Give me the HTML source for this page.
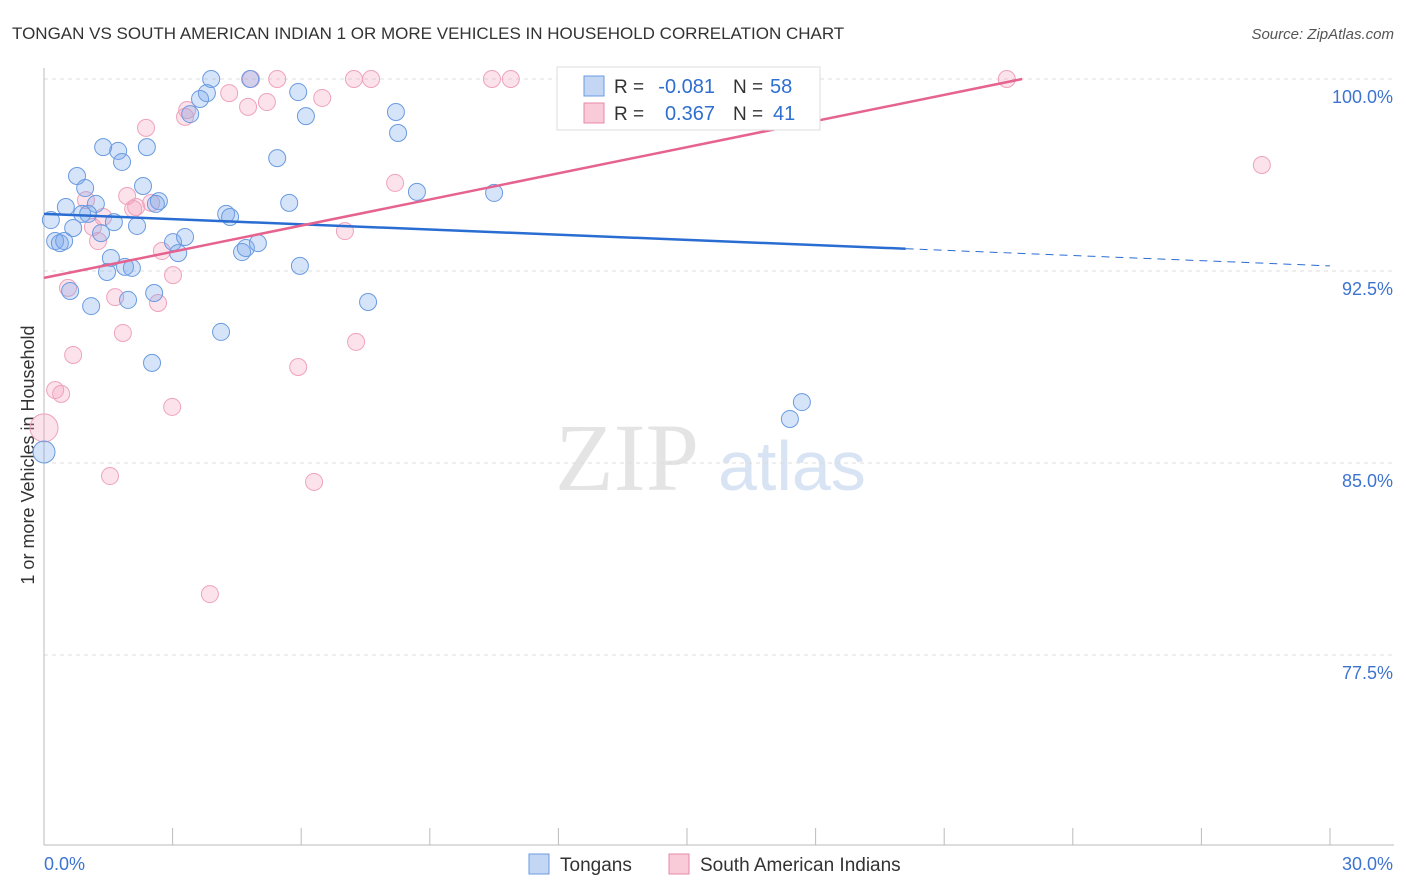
<!DOCTYPE html>
<html><head><meta charset="utf-8"><style>
body{margin:0;background:#fff;font-family:"Liberation Sans",sans-serif;}
#wrap{position:relative;width:1406px;height:892px;overflow:hidden;}
</style></head><body>
<div id="wrap">
<svg id="svg" width="1406" height="892" xmlns="http://www.w3.org/2000/svg">
<text x="12" y="39" font-size="17" fill="#333">TONGAN VS SOUTH AMERICAN INDIAN 1 OR MORE VEHICLES IN HOUSEHOLD CORRELATION CHART</text>
<text x="1394" y="39" font-size="15" fill="#555" font-style="italic" text-anchor="end">Source: ZipAtlas.com</text>
<text x="555" y="490" font-size="96" fill="#e4e4e4" font-family="Liberation Serif">ZIP</text>
<text x="718" y="490" font-size="70" fill="#d8e4f4">atlas</text>
<text transform="translate(34,455) rotate(-90)" font-size="18" fill="#333" text-anchor="middle">1 or more Vehicles in Household</text>
<g id="grid"></g><g id="pts"></g><g id="lines"></g>
<g>
<rect x="557" y="67" width="263" height="63" fill="#fff" stroke="#ddd"/>
<rect x="584" y="76" width="20" height="20" fill="#c3d7f4" stroke="#6a9be0"/>
<rect x="584" y="103" width="20" height="20" fill="#f9cbd8" stroke="#e88aa8"/>
<text x="614" y="93" font-size="19" fill="#333">R =</text>
<text x="715" y="93" font-size="20" fill="#2f6fd0" text-anchor="end">-0.081</text>
<text x="733" y="93" font-size="19" fill="#333">N =</text>
<text x="770" y="93" font-size="20" fill="#2f6fd0">58</text>
<text x="614" y="120" font-size="19" fill="#333">R =</text>
<text x="715" y="120" font-size="20" fill="#2f6fd0" text-anchor="end">0.367</text>
<text x="733" y="120" font-size="19" fill="#333">N =</text>
<text x="773" y="120" font-size="20" fill="#2f6fd0">41</text>
</g>
<g>
<rect x="529" y="854" width="20" height="20" fill="#c3d7f4" stroke="#6a9be0"/>
<text x="560" y="871" font-size="19" fill="#333">Tongans</text>
<rect x="669" y="854" width="20" height="20" fill="#f9cbd8" stroke="#e88aa8"/>
<text x="700" y="871" font-size="19" fill="#333">South American Indians</text>
</g>
</svg></div>
<script>
const blueX=[3.90,4.81,3.80,3.64,3.41,5.93,6.11,8.21,8.26,1.38,1.73,1.82,2.40,5.44,0.77,0.96,2.31,2.68,2.61,1.21,0.51,0.89,1.03,0.16,1.63,2.17,4.25,4.34,5.72,8.70,10.50,1.33,0.68,0.26,0.37,0.47,3.01,3.29,3.13,4.62,4.71,4.99,1.56,1.89,2.05,1.47,5.97,0.61,2.57,1.10,1.96,7.56,4.13,2.52,17.68,17.40,0,12.27];
const blueY=[100,100,99.45,99.22,98.63,99.49,98.55,98.71,97.89,97.34,97.19,96.76,97.34,96.91,96.21,95.74,95.82,95.23,95.12,95.12,95.00,94.73,94.73,94.49,94.41,94.26,94.73,94.61,95.16,95.59,95.55,93.98,94.18,93.67,93.59,93.67,93.63,93.83,93.20,93.24,93.40,93.59,93.01,92.66,92.62,92.46,92.70,91.72,91.64,91.13,91.37,91.29,90.12,88.91,87.38,86.72,85.43,98.75];
const pinkX=[4.83,5.44,7.23,7.63,10.45,10.89,22.46,4.32,5.20,4.76,6.49,3.34,3.29,2.38,8.19,28.41,1.94,0.98,2.50,2.15,2.08,1.38,1.14,1.26,7.02,2.75,3.01,0.56,1.66,2.66,1.84,0.68,7.28,5.93,0.26,0.40,0,2.99,1.54,6.30,3.87];
const pinkY=[100,100,100,100,100,100,100,99.45,99.10,98.91,99.26,98.79,98.52,98.09,95.94,96.64,95.43,95.27,95.16,95.00,94.92,94.61,94.22,93.67,94.06,93.28,92.34,91.84,91.48,91.25,90.08,89.22,89.73,88.75,87.85,87.70,86.37,87.19,84.49,84.26,79.88];
const yTicks=[100,92.5,85,77.5];
const yTickLabels=["100.0%","92.5%","85.0%","77.5%"];
const blueTrend=[94.73,92.70];
const pinkTrend=[92.23,100];
const pinkTrendEndX=22.82;
const NS="http://www.w3.org/2000/svg";
const sx=v=>44+v/30*1286;
const sy=v=>79+(100-v)/7.5*192;
function mk(tag,attrs,parent){const e=document.createElementNS(NS,tag);for(const k in attrs)e.setAttribute(k,attrs[k]);parent.appendChild(e);return e;}
const grid=document.getElementById('grid');
yTicks.forEach((t,i)=>{
 const l=mk('line',{x1:44,x2:1394,y1:sy(t),y2:sy(t),stroke:'#ddd','stroke-dasharray':'4,4'},grid);
 
 
 const tx=mk('text',{x:1393,y:sy(t)+24,'font-size':18,fill:'#3d74d0','text-anchor':'end'},grid);
 tx.textContent=yTickLabels[i];
 
 
});
mk('line',{x1:44,x2:44,y1:68,y2:845,stroke:'#bbb'},grid);
mk('line',{x1:44,x2:1394,y1:845,y2:845,stroke:'#bbb'},grid);
for(let i=0;i<=10;i++){const t=mk('line',{x1:sx(i*3),x2:sx(i*3),y1:828,y2:845,stroke:'#bbb'},grid);
 
 }
const xl0=mk('text',{x:44,y:870,'font-size':18,fill:'#3d74d0'},grid);xl0.textContent='0.0%';


const xl1=mk('text',{x:1393,y:870,'font-size':18,fill:'#3d74d0','text-anchor':'end'},grid);xl1.textContent='30.0%';


const pts=document.getElementById('pts');
pinkX.forEach((x,i)=>{const c=mk('circle',{cx:sx(x),cy:sy(pinkY[i]),r:(x===0?14:8.5),fill:'rgba(244,160,188,0.3)',stroke:'#eea3bc','stroke-width':1},pts);
 
 });
blueX.forEach((x,i)=>{const c=mk('circle',{cx:sx(x),cy:sy(blueY[i]),r:(x===0?11:8.5),fill:'rgba(120,165,235,0.3)',stroke:'#6a9be0','stroke-width':1},pts);
 
 });
const lines=document.getElementById('lines');
const bAt=x=>blueTrend[0]+(blueTrend[1]-blueTrend[0])*x/30;
const b1=mk('line',{x1:sx(0),y1:sy(bAt(0)),x2:sx(20.1),y2:sy(bAt(20.1)),stroke:'#2a6dd2','stroke-width':2.5},lines);


const b2=mk('line',{x1:sx(20.1),y1:sy(bAt(20.1)),x2:sx(30),y2:sy(bAt(30)),stroke:'#2a6dd2','stroke-width':1,'stroke-dasharray':'8,6'},lines);


const p1=mk('line',{x1:sx(0),y1:sy(pinkTrend[0]),x2:sx(pinkTrendEndX),y2:sy(pinkTrend[1]),stroke:'#e5638e','stroke-width':2.5},lines);


</script>
</body></html>
